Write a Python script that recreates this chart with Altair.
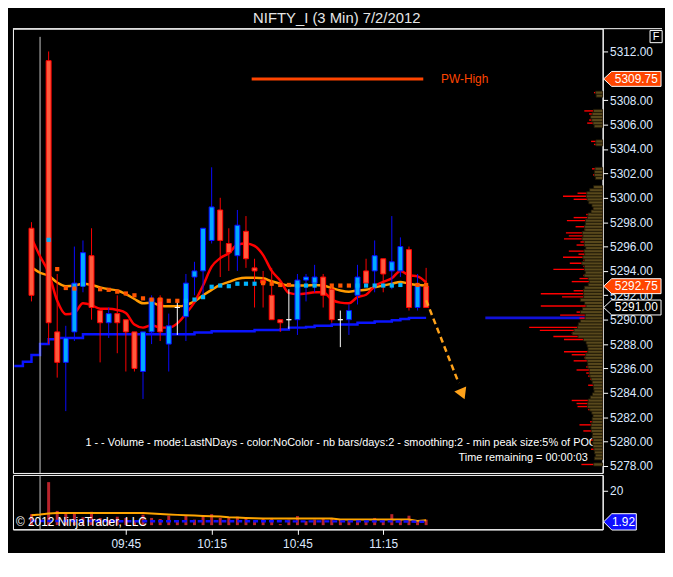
import altair as alt
import pandas as pd

# 3 minute bars, NIFTY_I futures, 2 July 2012
bar_times = ["09:12", "09:15", "09:18", "09:21", "09:24", "09:27", "09:30", "09:33", "09:36", "09:39",
             "09:42", "09:45", "09:48", "09:51", "09:54", "09:57", "10:00", "10:03", "10:06", "10:09",
             "10:12", "10:15", "10:18", "10:21", "10:24", "10:27", "10:30", "10:33", "10:36", "10:39",
             "10:42", "10:45", "10:48", "10:51", "10:54", "10:57", "11:00", "11:03", "11:06", "11:09",
             "11:12", "11:15", "11:18", "11:21", "11:24", "11:27", "11:30"]
opens = [5297.5, None, 5311.25, 5289.0, 5286.5, 5289.0, 5292.75, 5295.25, 5290.75, 5289.75,
         5290.5, 5290.0, 5289.0, 5285.75, 5289.0, 5291.75, 5288.0, 5291.0, 5290.25, 5293.5,
         5294.0, 5296.5, 5299.0, 5296.25, 5295.25, 5297.25, 5294.25, 5293.25, 5292.0, 5290.0,
         5290.0, 5290.0, 5293.25, 5293.0, 5293.5, 5292.5, 5290.0, 5290.0, 5292.0, 5294.0,
         5294.0, 5295.0, 5294.0, 5294.0, 5295.75, 5291.0, 5292.75]
highs = [5298.0, None, 5312.0, 5293.75, 5289.5, 5296.0, 5296.5, 5297.5, 5290.75, 5291.0,
         5292.0, 5290.0, 5289.0, 5289.0, 5292.0, 5292.0, 5290.5, 5291.5, 5293.75, 5294.75,
         5297.5, 5302.5, 5300.0, 5297.5, 5299.0, 5298.5, 5295.0, 5294.0, 5294.25, 5290.0,
         5292.5, 5293.75, 5293.75, 5294.5, 5293.75, 5292.75, 5290.75, 5291.25, 5294.5, 5295.0,
         5296.5, 5295.0, 5298.5, 5296.75, 5296.0, 5293.75, 5294.25]
lows = [5291.5, None, 5288.0, 5285.25, 5282.5, 5288.25, 5292.25, 5290.0, 5286.5, 5288.5,
        5287.25, 5285.75, 5285.75, 5283.5, 5288.0, 5288.25, 5285.75, 5288.75, 5288.25, 5292.0,
        5292.0, 5296.25, 5293.5, 5294.0, 5294.0, 5294.25, 5291.0, 5291.0, 5290.0, 5289.0,
        5289.25, 5288.75, 5291.5, 5292.25, 5291.0, 5289.75, 5287.75, 5288.75, 5291.25, 5292.75,
        5292.25, 5292.25, 5292.5, 5293.5, 5290.75, 5290.75, 5291.0]
closes = [5292.0, None, 5289.75, 5286.5, 5288.5, 5293.0, 5295.5, 5291.0, 5289.75, 5290.5,
          5289.75, 5289.0, 5286.0, 5289.0, 5291.75, 5289.0, 5289.5, 5291.0, 5293.0, 5294.0,
          5297.5, 5299.25, 5296.5, 5295.5, 5297.75, 5295.0, 5294.0, 5293.0, 5290.0, 5289.75,
          5290.0, 5293.25, 5293.5, 5293.5, 5292.0, 5290.0, 5290.0, 5290.75, 5293.5, 5293.0,
          5295.25, 5293.75, 5294.75, 5296.0, 5291.0, 5292.75, 5291.0]

fast_ma = [5296.7, 5295.2, 5293.85, 5291.55, 5290.45, 5290.55, 5291.35, 5291.2, 5290.9, 5290.9,
           5290.8, 5290.55, 5289.6, 5289.35, 5289.55, 5289.35, 5289.35, 5289.7, 5290.5, 5291.45,
           5292.8, 5294.35, 5295.05, 5295.45, 5296.15, 5296.25, 5296.05, 5295.3, 5294.0, 5293.2,
           5292.2, 5292.1, 5292.15, 5292.25, 5292.25, 5291.65, 5291.4, 5291.35, 5291.85, 5292.05,
           5292.75, 5293.1, 5293.4, 5294.0, 5293.65, 5293.55, 5293.05]
slow_ma = [5294.3, 5293.85, 5293.6, 5293.05, 5292.75, 5292.8, 5292.95, 5292.85, 5292.65, 5292.5,
           5292.4, 5292.1, 5291.7, 5291.35, 5291.4, 5291.15, 5291.1, 5291.1, 5291.2, 5291.5,
           5292.0, 5292.45, 5292.85, 5293.1, 5293.35, 5293.45, 5293.45, 5293.4, 5293.15, 5292.95,
           5292.8, 5292.8, 5292.8, 5292.85, 5292.8, 5292.6, 5292.4, 5292.3, 5292.4, 5292.45,
           5292.65, 5292.8, 5292.95, 5293.1, 5292.95, 5292.85, 5292.8]
dot_vals = [None, None, 5296.55, 5294.15, 5292.6, 5292.55, 5292.9, None, 5292.5, 5292.45,
            5292.3, 5292.15, 5292.0, 5291.75, 5291.65, 5291.65, 5291.55, 5291.55, 5291.55, 5291.65,
            5291.85, 5292.7, 5292.8, 5292.75, 5292.95, 5292.95, 5292.95, 5293.0, 5292.95, 5292.85,
            5292.85, 5292.8, 5292.8, 5292.8, None, 5292.8, 5292.8, 5292.8, 5292.8, 5292.8,
            5292.8, 5292.8, 5292.8, 5292.85, None, 5292.85, 5292.85]
dot_cols = [None, None, "c", "o", "o", "o", "c", None, "o", "o",
            "o", "o", "o", "o", "o", "o", "o", "o", "c", "c",
            "c", "c", "c", "c", "c", "c", "c", "o", "o", "o",
            "o", "c", "c", "c", None, "o", "o", "o", "c", "c",
            "c", "c", "c", "c", None, "o", "o"]

vwap_times = ["09:06", "09:09"] + bar_times
vwap_vals = [5286.2, 5286.55, 5287.1, 5288.0, 5288.4, 5288.5, 5288.5, 5288.5,
             5288.8, 5288.8, 5288.8, 5288.8, 5288.8, 5288.8, 5288.8, 5288.8, 5288.8, 5288.8,
             5288.8, 5288.8, 5288.8, 5288.95, 5288.95, 5289.05, 5289.05, 5289.05, 5289.05, 5289.05,
             5289.15, 5289.15, 5289.15, 5289.2, 5289.35, 5289.35, 5289.4, 5289.5, 5289.5,
             5289.6, 5289.6, 5289.6, 5289.75, 5289.75, 5289.85, 5289.85, 5289.95, 5290.05,
             5290.15, 5290.15, 5290.15]

volumes = [6.4, None, 25.1, 8.3, 6.8, 7.4, 4.6, 7.8, 4.2, 3.0,
           4.9, 4.2, 2.6, 6.1, 4.2, 3.6, 5.5, 3.0, 5.3, 3.2,
           5.3, 6.4, 4.2, 4.2, 4.9, 4.2, 2.3, 3.6, 4.2, 0.6,
           3.2, 5.3, 2.3, 3.2, 3.6, 4.2, 3.2, 2.6, 3.2, 2.1,
           4.2, 3.2, 6.4, 3.2, 5.5, 2.3, 3.2]
vol_ma = [5.8, 6.2, 6.8, 7.1, 7.1, 7.1, 7.1, 7.1, 7.1, 7.1,
          7.1, 7.1, 7.1, 7.1, 6.8, 6.5, 6.2, 6.0, 5.8, 5.6,
          5.4, 5.2, 5.0, 4.6, 4.4, 4.2, 4.0, 3.9, 3.9, 3.9,
          3.9, 3.9, 3.9, 3.9, 3.9, 3.9, 3.3, 3.3, 3.3, 3.3,
          3.3, 3.3, 3.3, 3.3, 3.3, 2.5, 2.9]
vol_avg = [2.4, 2.4, 2.4, 2.4, 2.4, 2.4, 2.4, 2.4, 2.4, 2.4,
           2.3, 2.3, 2.3, 2.3, 2.3, 2.3, 2.3, 2.3, 2.3, 2.3,
           2.3, 2.3, 2.3, 2.3, 2.3, 2.3, 2.3, 2.3, 2.3, 2.3,
           2.2, 2.2, 2.2, 2.2, 2.2, 2.2, 2.2, 2.2, 2.2, 2.2,
           2.2, 2.2, 2.2, 2.1, 2.1, 2.0, 1.92]

# volume profile, one value per 0.25 level starting at 5278.00
profile_sizes = [22, 0, 4, 4, 6, 12, 9, 10, 12, 10,
                 7, 20, 7, 24, 13, 6, 9, 7, 15, 26,
                 27, 32, 5, 10, 4, 5, 15, 10, 13, 15,
                 17, 27, 17, 12, 30, 19, 32, 40, 4, 9,
                 17, 40, 51, 32, 65, 76, 22, 15, 24, 44,
                 27, 20, 64, 4, 7, 42, 64, 30, 4, 9,
                 32, 24, 20, 14, 51, 20, 34, 20, 41, 25,
                 35, 15, 27, 23, 40, 35, 38, 19, 28, 15,
                 37, 30, 17, 8, 10, 5, 8, 30, 41, 26,
                 13, 5, 0, 0, 7, 10, 8, 11, 0, 0,
                 0, 0, 0, 0, 0, 9, 12, 0, 0, 0,
                 0, 8, 16, 14, 12, 14, 19, 0, 0, 0,
                 0, 5, 9]
profile_levels = [5278.0 + 0.25 * i for i in range(len(profile_sizes))]

pw_high = 5309.75
pw_span = ["10:29", "11:29"]
last_price = 5292.75
marker_price = 5291.00
poc_price = 5290.15
poc_from = 710.7
arrow_t = [690.0, 701.4]
arrow_p = [5291.6, 5284.8]
arrow_head = (702.7, 5283.9)
session_open = "09:15"


def to_minutes(hhmm):
    h, m = hhmm.split(":")
    return int(h) * 60 + int(m)


W, H, HV = 596, 449, 55
T0, T1 = 547.25, 750.0
P0, P1 = 5277.43, 5313.87
FONT = "Liberation Sans"

times = [to_minutes(s) for s in bar_times]

candles = pd.DataFrame({"t": times, "o": opens, "h": highs, "l": lows, "c": closes}).dropna()
candles["kind"] = ["up" if c > o else ("down" if c < o else "doji")
                   for o, c in zip(candles["o"], candles["c"])]
ma = pd.DataFrame({"t": times, "fast": fast_ma, "slow": slow_ma})
dots = pd.DataFrame({"t": times, "p": dot_vals, "col": dot_cols}).dropna()
vwap = pd.DataFrame({"t": [to_minutes(s) for s in vwap_times], "p": vwap_vals})
vol = pd.DataFrame({"t": times, "v": volumes, "ma": vol_ma, "avg": vol_avg})
profile = pd.DataFrame({"p": profile_levels, "size": profile_sizes})

# the 5310 label sits under the PW-High price marker in the original
price_ticks = [v for v in range(5278, 5313, 2) if v != 5310]
price_axis = alt.Axis(orient="right", values=price_ticks, format=".2f", title=None,
                      grid=False, labelFlush=False, labelOverlap=False, labelPadding=2)


def py(field):
    return alt.Y(field, scale=alt.Scale(domain=[P0, P1]), axis=price_axis)


def tx(field="t:Q"):
    return alt.X(field, scale=alt.Scale(domain=[T0, T1]), axis=None)


kind_stroke = alt.Scale(domain=["up", "down", "doji"], range=["#0a0aff", "#ff0000", "#ffffff"])
kind_fill = alt.Scale(domain=["up", "down", "doji"], range=["#00aaff", "#ff5a3c", "#ffffff"])

# main price panel
blue_step = alt.Chart(vwap).mark_line(interpolate="step-after", color="#0a14ff", strokeWidth=2.5).encode(
    x=tx(), y=py("p:Q"))
session = alt.Chart(pd.DataFrame({"t": [to_minutes(session_open)], "a": [5313.2], "b": [P0]})).mark_rule(
    color="#c8c8c8", strokeWidth=1).encode(x=tx(), y=py("a:Q"), y2="b:Q")
slow_line = alt.Chart(ma).mark_line(color="#ff9a00", strokeWidth=2.5, interpolate="monotone").encode(
    x=tx(), y=py("slow:Q"))
fast_line = alt.Chart(ma).mark_line(color="#ff0000", strokeWidth=2.5, interpolate="monotone").encode(
    x=tx(), y=py("fast:Q"))
wicks = alt.Chart(candles).mark_rule(strokeWidth=1).encode(
    x=tx(), y=py("l:Q"), y2="h:Q",
    stroke=alt.Stroke("kind:N", scale=kind_stroke, legend=None))
bodies = alt.Chart(candles).mark_bar(size=5, strokeWidth=1).encode(
    x=tx(), y=py("o:Q"), y2="c:Q",
    fill=alt.Fill("kind:N", scale=kind_fill, legend=None),
    stroke=alt.Stroke("kind:N", scale=kind_stroke, legend=None))
dot_marks = alt.Chart(dots).mark_square(size=18, opacity=1).encode(
    x=tx(), y=py("p:Q"),
    color=alt.Color("col:N", scale=alt.Scale(domain=["o", "c"], range=["#ff5500", "#00b4ff"]), legend=None))

pw_df = pd.DataFrame({"t": [to_minutes(pw_span[0])], "t2": [to_minutes(pw_span[1])], "p": [pw_high]})
pw_line = alt.Chart(pw_df).mark_rule(color="#ff4500", strokeWidth=3).encode(x=tx(), x2="t2:Q", y=py("p:Q"))
pw_text = alt.Chart(pw_df).mark_text(text="PW-High", color="#ff4500", fontSize=12, font=FONT,
                                     align="left", dx=18).encode(x=tx("t2:Q"), y=py("p:Q"))

arrow = alt.Chart(pd.DataFrame({"t": arrow_t, "p": arrow_p})).mark_line(
    color="#ffa21a", strokeWidth=2.5, strokeDash=[6, 4]).encode(x=tx(), y=py("p:Q"))
arrow_tip = alt.Chart(pd.DataFrame({"t": [arrow_head[0]], "p": [arrow_head[1]]})).mark_point(
    shape="triangle-up", size=170, filled=True, color="#ffa21a", opacity=1, angle=157).encode(
    x=tx(), y=py("p:Q"))

poc = alt.Chart(pd.DataFrame({"t": [poc_from], "t2": [T1], "p": [poc_price]})).mark_rule(
    color="#1414ff", strokeWidth=3, opacity=0.85).encode(x=tx(), x2="t2:Q", y=py("p:Q"))

# volume profile drawn from the price axis leftwards: red level lines, olive smoothed core
prof_x = alt.Scale(domain=[0, 610], reverse=True)
prof_red = alt.Chart(profile).transform_filter("datum.size > 0").transform_calculate(
    pm="datum.p + 0.125").mark_rule(color="#ff0000", strokeWidth=1.4).encode(
    x=alt.X("size:Q", scale=prof_x, axis=None), x2=alt.datum(0), y=py("pm:Q"))
prof_fill = alt.Chart(profile).transform_window(
    avg5="mean(size)", frame=[-2, 2], sort=[alt.SortField("p")]
).transform_filter("datum.size > 0").transform_calculate(
    p2="datum.p + 0.25", core="datum.avg5 * 0.5 + 5").mark_rect(
    fill="#58481c", stroke="#1e1806", strokeWidth=0.8).encode(
    x=alt.X("core:Q", scale=prof_x, axis=None), x2=alt.datum(0), y=py("p:Q"), y2="p2:Q")

badges = pd.DataFrame({"p": [pw_high, last_price, marker_price],
                       "label": [f"{pw_high:.2f}", f"{last_price:.2f}", f"{marker_price:.2f}"],
                       "fill": ["#ff4500", "#ff4500", "#000000"]})
badge_box = alt.Chart(badges).mark_point(
    shape="M-1,0L-0.72,-0.26L1,-0.26L1,0.26L-0.72,0.26Z", size=3364, filled=True,
    stroke="#ffffff", strokeWidth=1, opacity=1).encode(
    x=alt.value(W + 30), y=py("p:Q"), fill=alt.Fill("fill:N", scale=None))
badge_text = alt.Chart(badges).mark_text(color="#ffffff", fontSize=12, font=FONT, align="center").encode(
    x=alt.value(W + 34), y=py("p:Q"), text="label:N")

one = pd.DataFrame({"a": [0]})
top_line = alt.Chart(one).mark_rule(color="#ffffff", strokeWidth=1).encode(
    x=alt.value(0), x2=alt.value(W + 60), y=alt.value(0))
f_box = alt.Chart(one).mark_point(shape="square", size=150, filled=True, fill="#000000",
                                  stroke="#ffffff", strokeWidth=1, opacity=1).encode(
    x=alt.value(W + 54), y=alt.value(8))
f_text = alt.Chart(one).mark_text(text="F", color="#ffffff", fontSize=11, font=FONT).encode(
    x=alt.value(W + 54), y=alt.value(8))
info1 = alt.Chart(one).mark_text(
    text="1 -  - Volume - mode:LastNDays  - color:NoColor - nb bars/days:2 - smoothing:2 - min peak size:5% of POC",
    color="#ffffff", fontSize=11, font=FONT, align="right").encode(x=alt.value(W - 6), y=alt.value(419))
info2 = alt.Chart(one).mark_text(text="Time remaining = 00:00:03", color="#ffffff", fontSize=11, font=FONT,
                                 align="right").encode(x=alt.value(W - 15), y=alt.value(434))

price_group = alt.layer(blue_step, session, poc, slow_line, fast_line, wicks, bodies, dot_marks,
                        pw_line, pw_text, arrow, arrow_tip, info1, info2)
profile_group = alt.layer(prof_red, prof_fill)
deco_group = alt.layer(badge_box, badge_text, top_line, f_box, f_text)
main = alt.layer(price_group, profile_group, deco_group).resolve_scale(x="independent").properties(
    width=W, height=H)

# volume panel
vol_y = alt.Scale(domain=[-2.45, 29.3])
vol_axis = alt.Axis(orient="right", values=[20], title=None, grid=False, labelPadding=2)
time_axis = alt.Axis(orient="bottom", values=[585, 615, 645, 675], title=None, grid=False,
                     labelExpr="utcFormat(datum.value * 60000, '%H:%M')", labelPadding=4, labelFlush=False)
vx = alt.X("t:Q", scale=alt.Scale(domain=[T0, T1]), axis=time_axis)
vol_bars = alt.Chart(vol.dropna()).mark_bar(size=3, color="#b8232b").encode(
    x=vx, y=alt.Y("v:Q", scale=vol_y, axis=vol_axis))
vol_session = alt.Chart(pd.DataFrame({"t": [to_minutes(session_open)]})).mark_rule(
    color="#c8c8c8", strokeWidth=1).encode(x=vx)
vol_ma_line = alt.Chart(vol).mark_line(color="#ffa500", strokeWidth=2).encode(
    x=vx, y=alt.Y("ma:Q", scale=vol_y, axis=vol_axis))
vol_avg_line = alt.Chart(vol).mark_line(color="#1010ff", strokeWidth=2.5, strokeDash=[5, 3]).encode(
    x=vx, y=alt.Y("avg:Q", scale=vol_y, axis=vol_axis))
vol_badge_df = pd.DataFrame({"v": [vol_avg[-1]], "label": [f"{vol_avg[-1]:.2f}"]})
vol_badge = alt.Chart(vol_badge_df).mark_point(
    shape="M-1,0L-0.5,-0.5L1,-0.5L1,0.5L-0.5,0.5Z", size=1089, filled=True, fill="#1010ff",
    stroke="#ffffff", strokeWidth=1, opacity=1).encode(
    x=alt.value(W + 17.5), y=alt.Y("v:Q", scale=vol_y, axis=vol_axis))
vol_badge_text = alt.Chart(vol_badge_df).mark_text(color="#ffffff", fontSize=12, font=FONT).encode(
    x=alt.value(W + 21), y=alt.Y("v:Q", scale=vol_y, axis=vol_axis), text="label:N")
copyright_text = alt.Chart(one).mark_text(text="\u00a9 2012 NinjaTrader, LLC", color="#ffffff", fontSize=12,
                                          font=FONT, align="left").encode(x=alt.value(3), y=alt.value(48))

lower = alt.layer(vol_bars, vol_session, vol_ma_line, vol_avg_line, vol_badge, vol_badge_text,
                  copyright_text).properties(width=W, height=HV)

chart = alt.vconcat(main, lower, spacing=0).resolve_scale(x="independent", y="independent").properties(
    title=alt.TitleParams("NIFTY_I (3 Min)  7/2/2012", color="#e6e6e6", fontSize=15, font=FONT,
                          fontWeight="normal", anchor="middle", offset=2),
    background="#000000", padding=0
).configure_view(stroke="#ffffff", strokeWidth=1).configure_axis(
    labelFont=FONT, labelFontSize=12, labelColor="#dce8ff", tickColor="#ffffff", domainColor="#ffffff",
    tickSize=5, domainWidth=1)

chart.save("out.html", embed_options={"renderer": "svg", "actions": False})
